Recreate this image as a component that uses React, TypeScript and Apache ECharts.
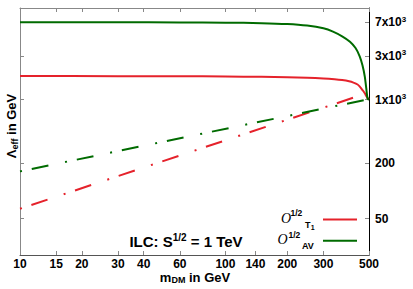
import React, { useEffect, useRef } from "react";
import * as echarts from "echarts";

// ---- data (m_DM in GeV, Lambda_eff in GeV) ----
const mT1 = [10, 30, 60, 100, 150, 200, 250, 300, 340, 370, 400, 420, 440, 450, 460, 470, 478, 485, 490, 495, 500];
const lamT1 = [1805, 1800, 1795, 1785, 1770, 1750, 1730, 1700, 1665, 1630, 1580, 1530, 1460, 1390, 1310, 1230, 1160, 1090, 1050, 1020, 1000];

const mAV = [10, 30, 60, 100, 150, 200, 250, 300, 334, 370, 404, 430, 451, 465, 477, 485, 490, 495, 500];
const lamAV = [7000, 6990, 6960, 6920, 6830, 6680, 6420, 6000, 5520, 4900, 4280, 3650, 2950, 2350, 1780, 1320, 1080, 1010, 1000];

const mT1dash = [10, 455];
const lamT1dash = [64, 1112];
const mAVdash = [10, 500];
const lamAVdash = [164, 1010];

const xTicks = [10, 15, 20, 30, 40, 60, 100, 140, 200, 300, 500];
const yTicks = [50, 200, 1000, 3000, 7000];
const yTickLabels = ["50", "200", "{b|1x10}{s|3}", "{b|3x10}{s|3}", "{b|7x10}{s|3}"];

const X_MIN = 10;
const X_MAX = 500;
const Y_MIN = 20;
const Y_MAX = 10000;

const RED = "#e5222b";
const GREEN = "#006b00";
const FONT = "'Liberation Sans', Arial, Helvetica, sans-serif";

const lg = (v: number) => Math.log10(v);
const pts = (xs: number[], ys: number[]) => xs.map((x, i) => [lg(x), lg(ys[i])]);

export default function App() {
  const ref = useRef<HTMLDivElement>(null);
  useEffect(() => {
    if (!ref.current) return;
    const chart = echarts.init(ref.current, null, { renderer: "svg" });
    const nearestIdx = (arr: number[], v: number) => {
      let bi = 0;
      let bd = Infinity;
      arr.forEach((a, i) => {
        const d = Math.abs(lg(a) - v);
        if (d < bd) {
          bd = d;
          bi = i;
        }
      });
      return bi;
    };
    const tickBase = { show: true, inside: true, length: 4, lineStyle: { color: "#888", width: 1 } };
    const option: any = {
      animation: false,
      grid: { left: 20, right: 44, top: 8, bottom: 34 },
      xAxis: [
        {
          type: "value",
          min: lg(X_MIN),
          max: lg(X_MAX),
          position: "bottom",
          axisLine: { onZero: false, lineStyle: { color: "#555", width: 1 } },
          axisTick: { ...tickBase, customValues: xTicks.map(lg) },
          axisLabel: {
            customValues: xTicks.map(lg),
            margin: 3,
            color: "#000",
            fontFamily: FONT,
            fontWeight: "bold",
            fontSize: 12,
            lineHeight: 12,
            formatter: (v: number) => String(xTicks[nearestIdx(xTicks, v)]),
          },
          splitLine: { show: false },
        },
        {
          type: "value",
          min: lg(X_MIN),
          max: lg(X_MAX),
          position: "top",
          axisLine: { onZero: false, lineStyle: { color: "#888", width: 1 } },
          axisTick: { ...tickBase, customValues: xTicks.map(lg) },
          axisLabel: { show: false },
          splitLine: { show: false },
        },
      ],
      yAxis: [
        {
          type: "value",
          min: lg(Y_MIN),
          max: lg(Y_MAX),
          position: "right",
          axisLine: { show: true, onZero: false, lineStyle: { color: "#000", width: 1 } },
          axisTick: { ...tickBase, customValues: yTicks.map(lg) },
          axisLabel: {
            customValues: yTicks.map(lg),
            margin: 6,
            color: "#000",
            fontFamily: FONT,
            fontWeight: "bold",
            fontSize: 12,
            formatter: (v: number) => yTickLabels[nearestIdx(yTicks, v)],
            rich: {
              b: { fontFamily: FONT, fontWeight: "bold", fontSize: 12, lineHeight: 14, color: "#000" },
              s: { fontFamily: FONT, fontWeight: "bold", fontSize: 8, lineHeight: 8, verticalAlign: "top", color: "#000" },
            },
          },
          splitLine: { show: false },
        },
        {
          type: "value",
          min: lg(Y_MIN),
          max: lg(Y_MAX),
          position: "left",
          axisLine: { show: true, onZero: false, lineStyle: { color: "#888", width: 1 } },
          axisTick: { ...tickBase, customValues: yTicks.map(lg) },
          axisLabel: { show: false },
          splitLine: { show: false },
        },
      ],
      series: [
        {
          type: "line",
          data: pts(mT1dash, lamT1dash),
          showSymbol: false,
          symbol: "none",
          lineStyle: { color: RED, width: 2, type: [17, 17, 2, 10], dashOffset: 34 },
        },
        {
          type: "line",
          data: pts(mAVdash, lamAVdash),
          showSymbol: false,
          symbol: "none",
          lineStyle: { color: GREEN, width: 2, type: [17, 17, 2, 10], dashOffset: 34 },
        },
        {
          type: "line",
          data: pts(mT1, lamT1),
          showSymbol: false,
          symbol: "none",
          smooth: 0.2,
          lineStyle: { color: RED, width: 2 },
        },
        {
          type: "line",
          data: pts(mAV, lamAV),
          showSymbol: false,
          symbol: "none",
          smooth: 0.2,
          lineStyle: { color: GREEN, width: 2 },
        },
      ],
      graphic: [
        // y-axis title
        {
          type: "text",
          x: 11,
          y: 126,
          rotation: Math.PI / 2,
          style: {
            text: "{a|Λ}{s|eff}{a| in GeV}",
            align: "center",
            verticalAlign: "middle",
            rich: {
              a: { fontFamily: FONT, fontWeight: "bold", fontSize: 13, lineHeight: 16, fill: "#000" },
              s: { fontFamily: FONT, fontWeight: "bold", fontSize: 9, lineHeight: 10, verticalAlign: "bottom", fill: "#000" },
            },
          },
        },
        // x-axis title
        {
          type: "text",
          x: 195,
          y: 277.5,
          style: {
            text: "{a|m}{s|DM}{a| in GeV}",
            align: "center",
            verticalAlign: "middle",
            rich: {
              a: { fontFamily: FONT, fontWeight: "bold", fontSize: 13, lineHeight: 13, fill: "#000" },
              s: { fontFamily: FONT, fontWeight: "bold", fontSize: 9, lineHeight: 9, verticalAlign: "bottom", fill: "#000" },
            },
          },
        },
        // ILC label
        {
          type: "text",
          x: 186,
          y: 241,
          style: {
            text: "{a|ILC: S}{s|1/2}{a| = 1 TeV}",
            align: "center",
            verticalAlign: "middle",
            rich: {
              a: { fontFamily: FONT, fontWeight: "bold", fontSize: 15, lineHeight: 18, fill: "#000" },
              s: { fontFamily: FONT, fontWeight: "bold", fontSize: 10, lineHeight: 10, verticalAlign: "top", fill: "#000" },
            },
          },
        },
        // legend entry 1
        { type: "text", x: 286, y: 218, style: { text: "O", fontFamily: "'Liberation Serif', serif", fontStyle: "italic", fontSize: 14, align: "center", verticalAlign: "middle", fill: "#000" } },
        { type: "text", x: 290.5, y: 213, style: { text: "1/2", fontFamily: FONT, fontWeight: "bold", fontSize: 8.5, align: "left", verticalAlign: "middle", fill: "#000" } },
        { type: "text", x: 305, y: 225, style: { text: "T", fontFamily: FONT, fontWeight: "bold", fontSize: 9, align: "left", verticalAlign: "middle", fill: "#000" } },
        { type: "text", x: 310.8, y: 227.5, style: { text: "1", fontFamily: FONT, fontWeight: "bold", fontSize: 7, align: "left", verticalAlign: "middle", fill: "#000" } },
        { type: "line", shape: { x1: 323, y1: 219.5, x2: 357, y2: 219.5 }, style: { stroke: RED, lineWidth: 2 } },
        // legend entry 2
        { type: "text", x: 282.5, y: 239, style: { text: "O", fontFamily: "'Liberation Serif', serif", fontStyle: "italic", fontSize: 14, align: "center", verticalAlign: "middle", fill: "#000" } },
        { type: "text", x: 288.5, y: 235, style: { text: "1/2", fontFamily: FONT, fontWeight: "bold", fontSize: 8.5, align: "left", verticalAlign: "middle", fill: "#000" } },
        { type: "text", x: 302, y: 245.5, style: { text: "AV", fontFamily: FONT, fontWeight: "bold", fontSize: 9, align: "left", verticalAlign: "middle", fill: "#000" } },
        { type: "line", shape: { x1: 323, y1: 240.7, x2: 357, y2: 240.7 }, style: { stroke: GREEN, lineWidth: 2 } },
      ],
    };
    chart.setOption(option);
    return () => chart.dispose();
  }, []);
  return (
    <div
      ref={ref}
      style={{ position: "fixed", left: 0, top: 0, width: 413, height: 289, background: "#fff" }}
    />
  );
}
